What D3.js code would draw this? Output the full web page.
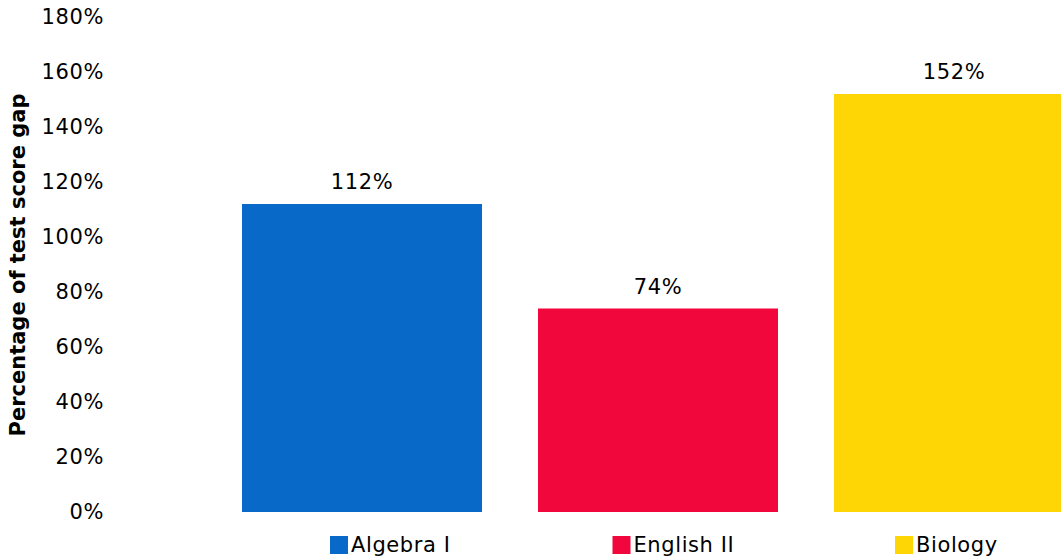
<!DOCTYPE html>
<html><head><meta charset="utf-8">
<script src="https://cdn.jsdelivr.net/npm/d3@7"></script>
<style>
html,body{margin:0;padding:0;background:#fff;overflow:hidden}
text{font-family:"DejaVu Sans",Verdana,sans-serif;fill:#000}
</style></head>
<body>
<svg id="chart" width="1061" height="556"></svg>
<script>
const categories = ["Algebra I", "English II", "Biology"];
const values = [112, 74, 152];
const colors = ["#0869c8", "#f2073d", "#ffd605"];
const yTicks = [0, 20, 40, 60, 80, 100, 120, 140, 160, 180];
const yTitle = "Percentage of test score gap";

const svg = d3.select("#chart");
const y = d3.scaleLinear().domain([0, 180]).range([512, 17]);
const x = d3.scaleBand().domain(categories).range([214, 1102]).paddingInner(56/296).paddingOuter(28/296);

const yAxis = svg.append("g").attr("transform", "translate(104,0)")
  .call(d3.axisLeft(y).tickValues(yTicks).tickFormat(d => d + "%").tickSize(0).tickPadding(0));
yAxis.select(".domain").remove();
yAxis.selectAll("text").style("font-size", "21px").style("letter-spacing", "0.6px")
  .style("font-family", '"DejaVu Sans",Verdana,sans-serif').attr("fill", "#000");

svg.append("g").selectAll("rect").data(categories).join("rect")
  .attr("x", d => x(d)).attr("width", x.bandwidth())
  .attr("y", (d, i) => y(values[i])).attr("height", (d, i) => y(0) - y(values[i]))
  .attr("fill", (d, i) => colors[i]);

svg.append("g").selectAll("text").data(categories).join("text")
  .attr("x", d => x(d) + x.bandwidth() / 2)
  .attr("y", (d, i) => y(values[i]) - 15)
  .attr("text-anchor", "middle").style("font-size", "21px").style("letter-spacing", "0.6px")
  .text((d, i) => values[i] + "%");

svg.append("text")
  .attr("transform", "translate(25,265) rotate(-90)")
  .attr("text-anchor", "middle").style("font-size", "21px").style("font-weight", "bold")
  .text(yTitle);

const lx = d3.scalePoint().domain(categories).range([330, 895]);
const leg = svg.append("g").selectAll("g").data(categories).join("g")
  .attr("transform", d => `translate(${lx(d)},536)`);
leg.append("rect").attr("width", 18).attr("height", 18).attr("fill", (d, i) => colors[i]);
leg.append("text").attr("x", 21).attr("y", 16).style("font-size", "21px").style("letter-spacing", "0.6px").text(d => d);
</script>
</body></html>
